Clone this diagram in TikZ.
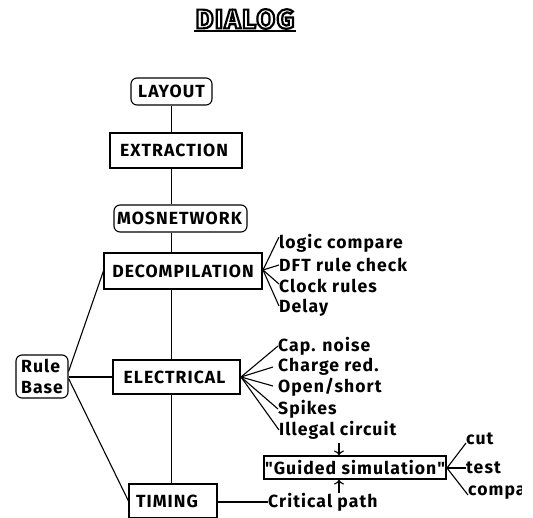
\documentclass[tikz,border=0pt]{standalone}
\usepackage{fontspec}
\usetikzlibrary{arrows.meta}
\setmainfont{Fira Sans}[BoldFont=* Bold]
\newfontfamily\chicf{Fira Sans}[UprightFont=* Bold,LetterSpace=6]
\newfontfamily\titlef{Fira Sans}[UprightFont=* Bold,LetterSpace=6]
\begin{document}
\begin{tikzpicture}[x=1pt,y=-1pt,
  every node/.style={inner sep=0pt,font=\chicf\fontsize{17.6}{21}\selectfont},
  sq/.style={draw,line width=1.1pt,minimum width=#1,rounded corners=0pt},
  rnd/.style={draw,line width=1.1pt,minimum width=#1,rounded corners=6pt},
  lab/.style={anchor=west},
  ln/.style={line width=1.1pt},
  arr/.style={line width=1.1pt,-{To[length=5pt,width=10pt]}}]
\useasboundingbox (0,0) rectangle (533,517);
\begin{scope}
\clip (0,0) rectangle (521,517);
% title
\node (title) at (245,19) {\titlef\fontsize{27}{27}\selectfont\special{pdf:code 2 Tr 2.2 w 1 g}DIALOG\special{pdf:code 0 Tr 0 g}};
\coordinate (ula) at (194,31);
\coordinate (ulb) at (296,31);
\draw[line width=2.2pt] (ula) -- (ulb);
% boxes
\node[rnd=81pt,minimum height=27pt] (layout) at (171.5,91.5) {LAYOUT};
\node[sq=132pt,minimum height=35pt] (extraction) at (176,150.5) {EXTRACTION\kern4pt};
\node[rnd=133pt,minimum height=27pt] (mos) at (180.5,218.5) {MOSNETWORK\kern2pt};
\node[sq=158pt,minimum height=36pt] (decomp) at (183,271) {DECOMPILATION};
\node[rnd=52pt,minimum height=43pt,align=left,font=\chicf\fontsize{17.6}{21}\selectfont] (rule) at (42,376.5) {Rule\\Base};
\node[sq=127pt,minimum height=34pt] (elec) at (176.5,377) {ELECTRICAL\kern4pt};
\node[sq=88pt,minimum height=34pt] (timing) at (173,501) {TIMING\kern12pt};
\node[sq=182pt,minimum height=23pt] (guided) at (355,467.5) {"Guided simulation"};
% spine
\draw[ln] (layout.south) -- (extraction.north -| layout.south);
\draw[ln] (extraction.south -| layout.south) -- (mos.north -| layout.south);
\draw[ln] (mos.south -| layout.south) -- (decomp.north -| layout.south);
\draw[ln] (decomp.south -| layout.south) -- (elec.north -| layout.south);
\draw[ln] (elec.south -| layout.south) -- (timing.north -| layout.south);
% rule base
\draw[ln] (rule.east) ++(0,-5) -- (decomp.west);
\draw[ln] (rule.east |- elec.west) -- (elec.west);
\draw[ln] (rule.east) ++(0,2) -- (timing.west);
% labels
\node[lab] (l1) at (279,243) {logic compare};
\node[lab] (l2) at (279,265) {DFT rule check};
\node[lab] (l3) at (279,286) {Clock rules};
\node[lab] (l4) at (279,308) {Delay};
\node[lab] (e1) at (278,346) {Cap. noise};
\node[lab] (e2) at (278,367) {Charge red.};
\node[lab] (e3) at (278,387) {Open/short};
\node[lab] (e4) at (278,409) {Spikes};
\node[lab] (e5) at (279,430) {Illegal circuit};
\node[lab] (crit) at (268,502) {Critical path};
\node[lab] (g1) at (466,439) {cut};
\node[lab] (g2) at (466,468) {test};
\node[lab] (g3) at (468,493) {compare};
% fans
\coordinate (dh) at (263,270);
\coordinate (eh) at (241,377);
\coordinate (gh) at (447,468);
\draw[ln] (dh) -- (l1.west |- 0,237);
\draw[ln] (dh) -- (l2.west);
\draw[ln] (dh) -- (l3.west |- 0,284);
\draw[ln] (dh) -- (l4.west |- 0,306);
\draw[ln] (eh) -- (e1.west);
\draw[ln] (eh) -- (273,367) coordinate (e2e);
\draw[ln] (eh) -- (273,386) coordinate (e3e);
\draw[ln] (eh) -- (e4.west);
\draw[ln] (eh) -- (e5.west);
\draw[ln] (gh) -- (g1.west |- 0,443);
\draw[ln] (gh) -- (g2.west);
\draw[ln] (gh) -- (g3.west |- 0,495);
\draw[ln] (timing.east |- crit) -- (crit.west);
\coordinate (gt) at (339,443);
\draw[arr] (gt) -- (gt |- guided.north);
\draw[arr] (crit.north -| gt) -- (gt |- guided.south);
\end{scope}
\end{tikzpicture}
\end{document}
